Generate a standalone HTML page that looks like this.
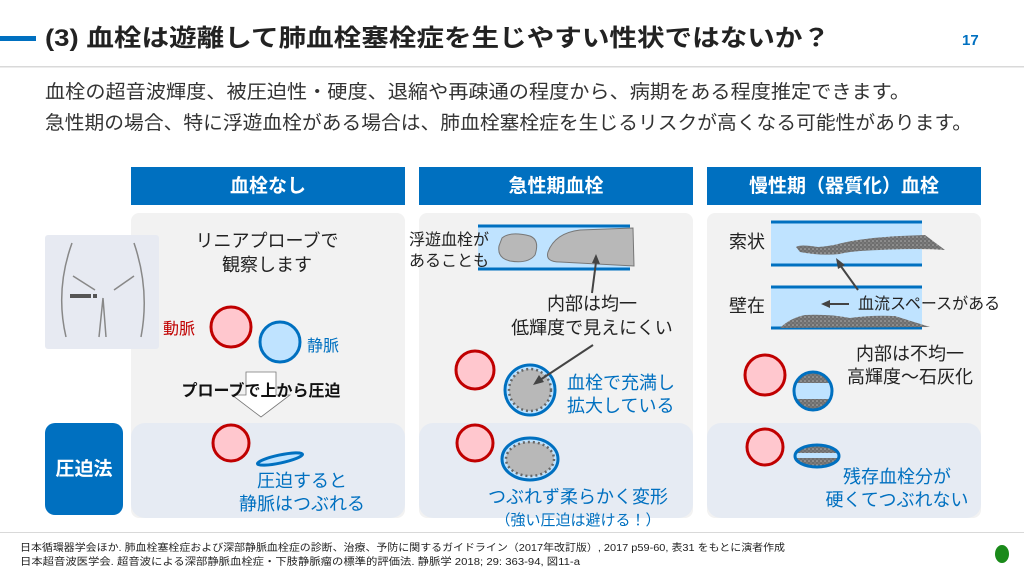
<!DOCTYPE html>
<html><head><meta charset="utf-8"><style>
html,body{margin:0;padding:0;background:#fff;}
svg{display:block;font-family:"Liberation Sans","Noto Sans CJK JP",sans-serif;}
</style></head><body>
<svg width="1024" height="576" viewBox="0 0 1024 576" xmlns="http://www.w3.org/2000/svg">
<defs>
<pattern id="dots" width="4" height="4" patternUnits="userSpaceOnUse"><rect width="4" height="4" fill="#6e6e6e"/><circle cx="1" cy="1" r="0.8" fill="#b0b0b0"/><circle cx="3" cy="3" r="0.6" fill="#999"/></pattern>
</defs>
<rect x="0" y="36" width="36" height="5" fill="#0070c0"/>
<text x="45" y="46" font-size="24" font-weight="bold" fill="#222" textLength="785" lengthAdjust="spacingAndGlyphs">(3) 血栓は遊離して肺血栓塞栓症を生じやすい性状ではないか？</text>
<text x="962" y="45" font-size="15" font-weight="bold" fill="#0070c0">17</text>
<rect x="0" y="66" width="1024" height="1.5" fill="#d9d9d9"/>
<text x="45" y="98" font-size="19" fill="#333" textLength="865" lengthAdjust="spacingAndGlyphs">血栓の超音波輝度、被圧迫性・硬度、退縮や再疎通の程度から、病期をある程度推定できます。</text>
<text x="45" y="129" font-size="19" fill="#333" textLength="927" lengthAdjust="spacingAndGlyphs">急性期の場合、特に浮遊血栓がある場合は、肺血栓塞栓症を生じるリスクが高くなる可能性があります。</text>

<rect x="131" y="167" width="274" height="38" fill="#0070c0"/>
<rect x="419" y="167" width="274" height="38" fill="#0070c0"/>
<rect x="707" y="167" width="274" height="38" fill="#0070c0"/>
<text x="268" y="192" font-size="19" font-weight="bold" fill="#fff" text-anchor="middle">血栓なし</text>
<text x="556" y="192" font-size="19" font-weight="bold" fill="#fff" text-anchor="middle">急性期血栓</text>
<text x="844" y="192" font-size="19" font-weight="bold" fill="#fff" text-anchor="middle">慢性期（器質化）血栓</text>

<rect x="131" y="213" width="274" height="305" rx="8" fill="#f2f2f2"/>
<rect x="419" y="213" width="274" height="305" rx="8" fill="#f2f2f2"/>
<rect x="707" y="213" width="274" height="305" rx="8" fill="#f2f2f2"/>
<rect x="131" y="423" width="274" height="95" rx="14" fill="#e6ebf3"/>
<rect x="419" y="423" width="274" height="95" rx="14" fill="#e6ebf3"/>
<rect x="707" y="423" width="274" height="95" rx="14" fill="#e6ebf3"/>

<rect x="45" y="235" width="114" height="114" rx="3" fill="#e7eaf2"/>
<path d="M72 243 Q55 290 66 337" stroke="#888" stroke-width="1.5" fill="none"/>
<path d="M134 243 Q150 290 141 337" stroke="#888" stroke-width="1.5" fill="none"/>
<line x1="73" y1="276" x2="95" y2="290" stroke="#888" stroke-width="1.5"/>
<line x1="134" y1="276" x2="114" y2="290" stroke="#888" stroke-width="1.5"/>
<path d="M99 337 L103 298 L106 337" stroke="#888" stroke-width="1.5" fill="none"/>
<rect x="70" y="294" width="21" height="4" fill="#555"/>
<rect x="93" y="294" width="4" height="4" fill="#555"/>
<rect x="45" y="423" width="78" height="92" rx="10" fill="#0070c0"/>
<text x="84" y="475" font-size="19" font-weight="bold" fill="#fff" text-anchor="middle">圧迫法</text>

<text x="267" y="247" font-size="18" fill="#222" text-anchor="middle">リニアプローブで</text>
<text x="267" y="271" font-size="18" fill="#222" text-anchor="middle">観察します</text>
<text x="163" y="334" font-size="16" fill="#c00000">動脈</text>
<circle cx="231" cy="327" r="20" fill="#ffc7ce" stroke="#c00000" stroke-width="3"/>
<circle cx="280" cy="342" r="20" fill="#bfe3ff" stroke="#0070c0" stroke-width="3"/>
<text x="307" y="351" font-size="16" fill="#0070c0">静脈</text>
<path d="M246 372 H276 V395 H290 L261 417 L232 395 H246 Z" fill="#fff" stroke="#777" stroke-width="0.8"/>
<text x="261" y="396" font-size="16" font-weight="bold" fill="#111" text-anchor="middle">プローブで上から圧迫</text>
<circle cx="231" cy="443" r="18" fill="#ffc7ce" stroke="#c00000" stroke-width="3"/>
<ellipse cx="280" cy="459" rx="23" ry="4" transform="rotate(-12 280 459)" fill="#bfe3ff" stroke="#0070c0" stroke-width="3"/>
<text x="302" y="487" font-size="18" fill="#0070c0" text-anchor="middle">圧迫すると</text>
<text x="302" y="510" font-size="18" fill="#0070c0" text-anchor="middle">静脈はつぶれる</text>

<rect x="478" y="226" width="152" height="43" fill="#bfe3ff"/>
<line x1="478" y1="226" x2="630" y2="226" stroke="#0070c0" stroke-width="3"/>
<line x1="478" y1="269" x2="630" y2="269" stroke="#0070c0" stroke-width="3"/>
<path d="M502 238 Q510 231 530 236 Q540 240 535 255 Q528 264 510 261 Q497 258 499 246 Z" fill="#b8b8b8" stroke="#777"/>
<path d="M548 252 Q555 233 580 230 L633 228 L634 266 L560 262 Q545 262 548 252 Z" fill="#b8b8b8" stroke="#777"/>
<text x="409" y="245" font-size="16" fill="#222">浮遊血栓が</text>
<text x="409" y="266" font-size="16" fill="#222">あることも</text>
<line x1="592" y1="293" x2="596" y2="262" stroke="#444" stroke-width="2"/>
<path d="M596 254 L600 264 L592 263 Z" fill="#444"/>
<text x="592" y="310" font-size="18" fill="#222" text-anchor="middle">内部は均一</text>
<text x="592" y="334" font-size="18" fill="#222" text-anchor="middle">低輝度で見えにくい</text>
<circle cx="475" cy="370" r="19" fill="#ffc7ce" stroke="#c00000" stroke-width="3"/>
<circle cx="530" cy="390" r="25" fill="#bfe3ff" stroke="#0070c0" stroke-width="3"/>
<circle cx="530" cy="390" r="21" fill="#b8b8b8" stroke="#666" stroke-width="2.5" stroke-dasharray="2 3"/>
<line x1="593" y1="345" x2="540" y2="380" stroke="#444" stroke-width="2"/>
<path d="M533 385 L539 375 L544 382 Z" fill="#444"/>
<text x="567" y="389" font-size="18" fill="#0070c0">血栓で充満し</text>
<text x="567" y="412" font-size="18" fill="#0070c0">拡大している</text>
<circle cx="475" cy="443" r="18" fill="#ffc7ce" stroke="#c00000" stroke-width="3"/>
<ellipse cx="530" cy="459" rx="28" ry="21" fill="#bfe3ff" stroke="#0070c0" stroke-width="3"/>
<ellipse cx="530" cy="459" rx="24" ry="17" fill="#b8b8b8" stroke="#666" stroke-width="2.5" stroke-dasharray="2 3"/>
<text x="578" y="503" font-size="18" fill="#0070c0" text-anchor="middle">つぶれず柔らかく変形</text>
<text x="578" y="525" font-size="15" fill="#0070c0" text-anchor="middle">（強い圧迫は避ける！）</text>

<rect x="771" y="222" width="151" height="43" fill="#bfe3ff"/>
<line x1="771" y1="222" x2="922" y2="222" stroke="#0070c0" stroke-width="3"/>
<line x1="771" y1="265" x2="922" y2="265" stroke="#0070c0" stroke-width="3"/>
<rect x="771" y="287" width="151" height="41" fill="#bfe3ff"/>
<line x1="771" y1="287" x2="922" y2="287" stroke="#0070c0" stroke-width="3"/>
<line x1="771" y1="328" x2="922" y2="328" stroke="#0070c0" stroke-width="3"/>
<path d="M796 247 Q800 244 818 247 Q830 246 838 244 Q860 238 900 236 L925 235 L945 250 Q920 248 880 250 Q850 251 840 254 Q820 256 800 252 Z" fill="url(#dots)"/>
<path d="M780 328 Q790 318 805 315 Q830 314 850 318 Q870 315 895 316 L930 327 Z" fill="url(#dots)"/>
<text x="729" y="248" font-size="18" fill="#222">索状</text>
<text x="729" y="312" font-size="18" fill="#222">壁在</text>
<line x1="858" y1="290" x2="840" y2="265" stroke="#444" stroke-width="2"/>
<path d="M836 258 L845 265 L838 269 Z" fill="#444"/>
<line x1="849" y1="304" x2="828" y2="304" stroke="#444" stroke-width="2"/>
<path d="M821 304 L830 300 L830 308 Z" fill="#444"/>
<text x="858" y="309" font-size="16" fill="#222">血流スペースがある</text>
<text x="910" y="360" font-size="18" fill="#222" text-anchor="middle">内部は不均一</text>
<text x="910" y="383" font-size="18" fill="#222" text-anchor="middle">高輝度～石灰化</text>
<circle cx="765" cy="375" r="20" fill="#ffc7ce" stroke="#c00000" stroke-width="3"/>
<clipPath id="cv"><circle cx="813" cy="391" r="19"/></clipPath>
<circle cx="813" cy="391" r="19" fill="#bfe3ff"/>
<rect x="793" y="371" width="40" height="12" fill="url(#dots)" clip-path="url(#cv)"/>
<rect x="793" y="399" width="40" height="12" fill="url(#dots)" clip-path="url(#cv)"/>
<circle cx="813" cy="391" r="19" fill="none" stroke="#0070c0" stroke-width="3"/>
<circle cx="765" cy="447" r="18" fill="#ffc7ce" stroke="#c00000" stroke-width="3"/>
<clipPath id="ce"><ellipse cx="817" cy="456" rx="22" ry="11"/></clipPath>
<ellipse cx="817" cy="456" rx="22" ry="11" fill="url(#dots)"/>
<rect x="794" y="453" width="46" height="5" fill="#bfe3ff" clip-path="url(#ce)"/>
<ellipse cx="817" cy="456" rx="22" ry="11" fill="none" stroke="#0070c0" stroke-width="3"/>
<text x="897" y="483" font-size="18" fill="#0070c0" text-anchor="middle">残存血栓分が</text>
<text x="897" y="506" font-size="18" fill="#0070c0" text-anchor="middle">硬くてつぶれない</text>

<rect x="0" y="532" width="1024" height="1" fill="#d9d9d9"/>
<text x="20" y="551" font-size="10" fill="#222" textLength="765" lengthAdjust="spacingAndGlyphs">日本循環器学会ほか. 肺血栓塞栓症および深部静脈血栓症の診断、治療、予防に関するガイドライン（2017年改訂版）, 2017 p59-60, 表31 をもとに演者作成</text>
<text x="20" y="565" font-size="10" fill="#222" textLength="560" lengthAdjust="spacingAndGlyphs">日本超音波医学会. 超音波による深部静脈血栓症・下肢静脈瘤の標準的評価法. 静脈学 2018; 29: 363-94, 図11-a</text>
<ellipse cx="1002" cy="554" rx="7" ry="9" fill="#1a8a1a"/>
</svg>
</body></html>
